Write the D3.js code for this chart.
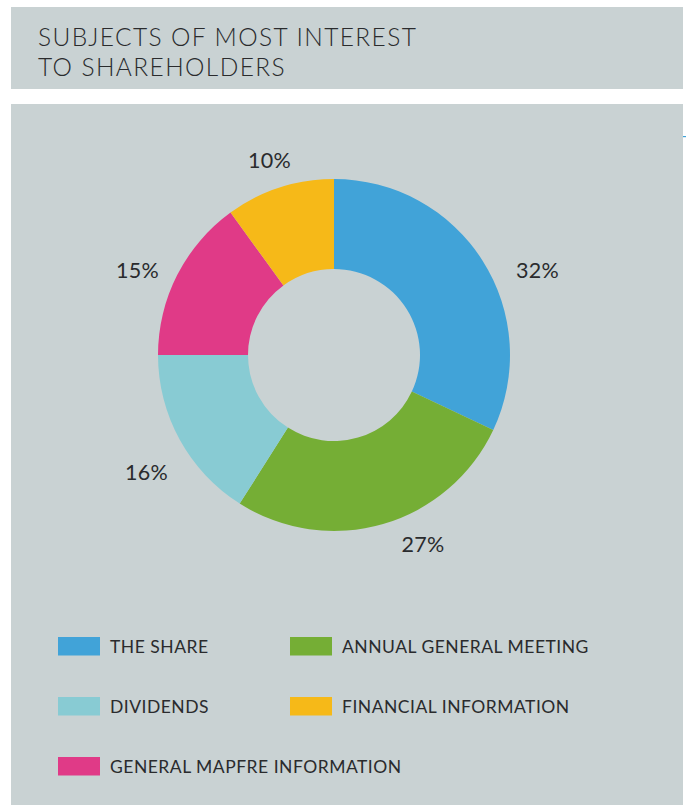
<!DOCTYPE html>
<html>
<head>
<meta charset="utf-8">
<script src="https://cdn.jsdelivr.net/npm/d3@7"></script>
<style>
  html, body { margin: 0; padding: 0; background: #ffffff; }
  svg { display: block; }
  text { font-family: Lato, "Open Sans", sans-serif; }
</style>
</head>
<body>
<svg id="chart" width="689" height="805"></svg>
<script>
// Survey results: subjects of most interest to shareholders (%)
const categories = [
  "THE SHARE",
  "ANNUAL GENERAL MEETING",
  "DIVIDENDS",
  "GENERAL MAPFRE INFORMATION",
  "FINANCIAL INFORMATION"
];
const shares = [32, 27, 16, 15, 10];
const colors = ["#41a3d8", "#75ae35", "#88cbd3", "#e03a87", "#f6b918"];
const titleLines = ["SUBJECTS OF MOST INTEREST", "TO SHAREHOLDERS"];

// Legend reading order (two columns, row by row)
const legendOrder = [0, 1, 2, 4, 3];

const svg = d3.select("#chart");
const panelFill = "#c9d2d3";
const textFill = "#2a2b2d";

// Title band
svg.append("rect")
  .attr("x", 11).attr("y", 7).attr("width", 672).attr("height", 82)
  .attr("fill", panelFill);

svg.append("g").selectAll("text")
  .data(titleLines)
  .join("text")
  .attr("x", 38)
  .attr("y", (d, i) => 46 + i * 30)
  .attr("font-size", 24.5)
  .attr("font-weight", 300)
  .attr("letter-spacing", 1.4)
  .attr("fill", textFill)
  .text(d => d);

// Chart panel
svg.append("rect")
  .attr("x", 11).attr("y", 104).attr("width", 672).attr("height", 720)
  .attr("fill", panelFill);

// small stray tick at the panel edge
svg.append("rect")
  .attr("x", 683).attr("y", 136).attr("width", 3).attr("height", 1.2)
  .attr("fill", "#41a3d8");

// Donut
const cx = 334, cy = 355;
const outerR = 176, innerR = 86;

const pie = d3.pie().sort(null).value(d => d);
const arcs = pie(shares);

const arc = d3.arc().innerRadius(innerR).outerRadius(outerR);
const labelArc = d3.arc().innerRadius(215).outerRadius(215);

const g = svg.append("g").attr("transform", `translate(${cx},${cy})`);

g.selectAll("path")
  .data(arcs)
  .join("path")
  .attr("d", arc)
  .attr("fill", (d, i) => colors[i]);

// hand-tuned nudges so each percentage sits clear of its slice
const labelNudge = [[22, 30], [29, -17], [1, 14], [-5, 13], [2, 10]];

g.selectAll("text.pct")
  .data(arcs)
  .join("text")
  .attr("class", "pct")
  .attr("x", (d, i) => labelArc.centroid(d)[0] + labelNudge[i][0])
  .attr("y", (d, i) => labelArc.centroid(d)[1] + labelNudge[i][1])
  .attr("dy", "0.36em")
  .attr("text-anchor", "middle")
  .attr("font-size", 21.5)
  .attr("font-weight", 400)
  .attr("letter-spacing", 0.3)
  .attr("fill", textFill)
  .text(d => d.data + "%");

// Legend
const colX = d3.scalePoint().domain([0, 1]).range([58, 290]);
const rowY = d3.scalePoint().domain([0, 1, 2]).range([637, 757]);

const legend = svg.append("g")
  .selectAll("g")
  .data(legendOrder)
  .join("g")
  .attr("transform", (d, k) => `translate(${colX(k % 2)},${rowY(Math.floor(k / 2))})`);

legend.append("rect")
  .attr("width", 42).attr("height", 18.5)
  .attr("fill", d => colors[d]);

legend.append("text")
  .attr("x", 52)
  .attr("y", 9.5)
  .attr("dy", "0.36em")
  .attr("font-size", 17.5)
  .attr("font-weight", 400)
  .attr("letter-spacing", 0.5)
  .attr("fill", textFill)
  .text(d => categories[d]);
</script>
</body>
</html>
